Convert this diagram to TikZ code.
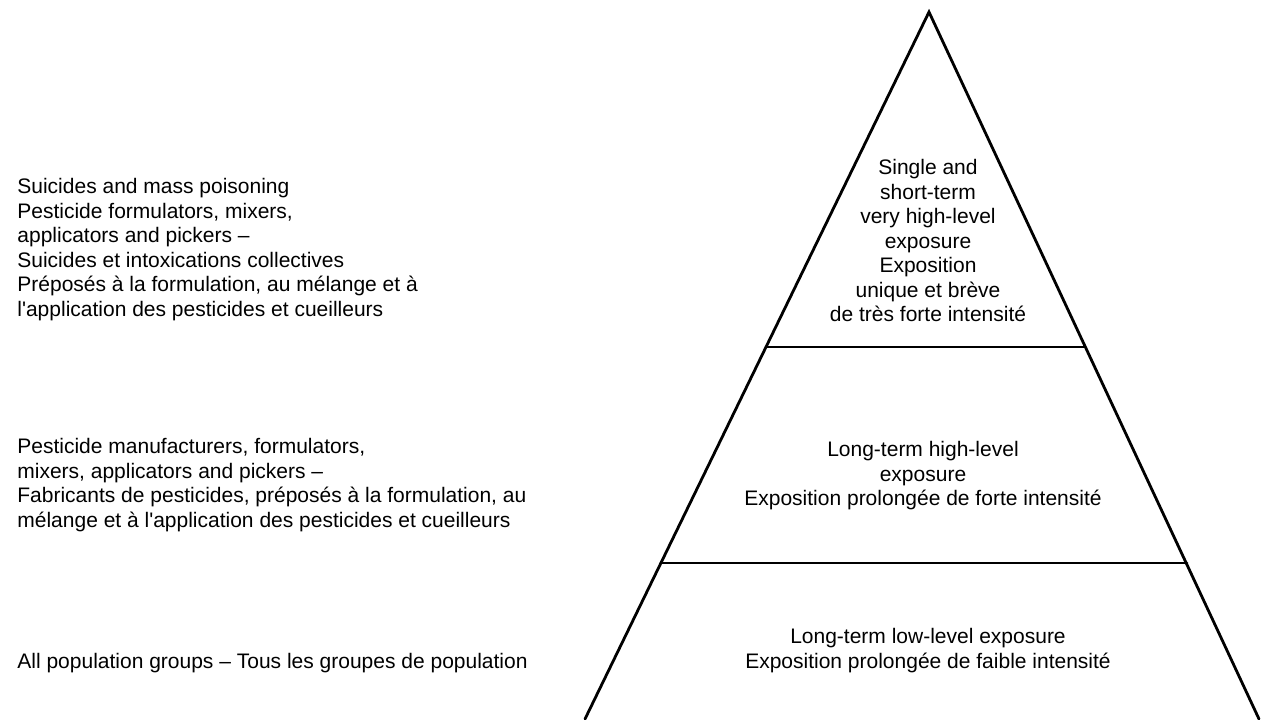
\documentclass[tikz,border=0pt]{standalone}
\usepackage{fontspec}
\setmainfont{Liberation Sans}

\begin{document}
\begin{tikzpicture}[%
        x = 0.5pt,
        y = -0.5pt,
        line width = 1.4pt,
        line cap = round,
        every node/.style = {font=\fontsize{10.5}{12.25}\selectfont, inner sep=0pt},
        group/.style = {align=left, anchor=north west},
        band/.style = {align=center, anchor=north}
    ]

        \useasboundingbox (0,0) rectangle (1264,719);

        % Coordinates for the corners of the pyramid and the ends of its two dividing lines.
        \coordinate (P1) at (585, 719);
        \coordinate (P2) at (929, 12);
        \coordinate (P3) at (1259, 719);
        \coordinate (L1) at (766, 347);
        \coordinate (R1) at (1085, 347);
        \coordinate (L2) at (661, 563);
        \coordinate (R2) at (1187, 563);

        % The pyramid, open at the bottom edge.
        \draw (P1) -- (P2) -- (P3);
        \draw (L1) -- (R1);
        \draw (L2) -- (R2);

        % Levels of exposure inside the pyramid.
        \node[band] (top) at (928, 158)
            {Single and\\short-term\\very high-level\\exposure\\Exposition\\unique et brève\\de très forte intensité};
        \node[band] (middle) at (923, 440)
            {Long-term high-level\\exposure\\Exposition prolongée de forte intensité};
        \node[band] (bottom) at (928, 627)
            {Long-term low-level exposure\\Exposition prolongée de faible intensité};

        % Population groups on the left.
        \node[group] (suicides) at (16, 177)
            {Suicides and mass poisoning\\Pesticide formulators, mixers,\\applicators and pickers --\\Suicides et intoxications collectives\\Préposés à la formulation, au mélange et à\\l\textquotesingle application des pesticides et cueilleurs};
        \node[group] (workers) at (16, 437)
            {Pesticide manufacturers, formulators,\\mixers, applicators and pickers --\\Fabricants de pesticides, préposés à la formulation, au\\mélange et à l\textquotesingle application des pesticides et cueilleurs};
        \node[group, anchor=base west] (population) at (16, 668)
            {All population groups -- Tous les groupes de population};
    \end{tikzpicture}
\end{document}
